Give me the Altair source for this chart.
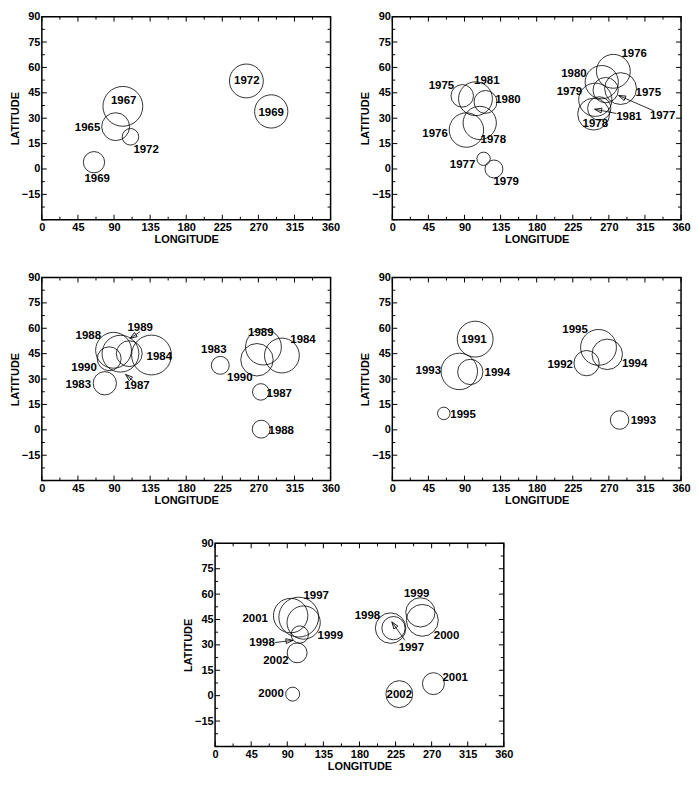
import math
import altair as alt
import pandas as pd

# ---------------- axis / tick values ----------------
X_LABELS = [0, 45, 90, 135, 180, 225, 270, 315, 360]
Y_LABELS = [-15, 0, 15, 30, 45, 60, 75, 90]
X_MAJOR = [0, 45, 90, 135, 180, 225, 270, 315, 360]
X_MINOR = [22.5, 67.5, 112.5, 157.5, 202.5, 247.5, 292.5, 337.5]
Y_MAJOR = [-30, -15, 0, 15, 30, 45, 60, 75, 90]
Y_MINOR = [-22.5, -7.5, 7.5, 22.5, 37.5, 52.5, 67.5, 82.5]

# ---------------- panel 1 (1965-1972) ----------------
P1_YEAR = ["1967", "1965", "1972", "1969", "1972", "1969"]
P1_LON = [101, 92, 110.5, 65, 255, 286]
P1_LAT = [37, 25, 19, 4, 52, 34]
P1_R = [20, 14, 8.3, 10.7, 17, 16.7]
P1_TLON = [102, 57, 130, 69, 255.5, 286]
P1_TLAT = [40, 24.3, 11, -6, 51.7, 33.2]
P1_ARROWS = ([], [], [], [])

# ---------------- panel 2 (1975-1981) ----------------
P2_YEAR = ["1975", "1981", "1980", "1976", "1978", "1977", "1979",
           "1976", "1980", "1975", "1979", "1978", "1977", "1981"]
P2_LON = [87.2, 103.7, 116.2, 92.4, 109, 113.8, 126.7,
          275.6, 261.1, 284.6, 253.1, 251, 266, 258]
P2_LAT = [43.2, 41.5, 39.6, 23, 27.2, 6, 0,
          57.7, 51.3, 47.5, 40.9, 32.4, 46.6, 35.8]
P2_R = [11.3, 17, 11.5, 17.3, 16.7, 6.7, 9,
        17, 16.7, 16, 16.7, 16, 12.7, 11.7]
P2_TLON = [61.3, 117.8, 144.1, 53.3, 125.9, 87.6, 142,
           301.5, 226.5, 319.2, 220.8, 253.1, 337, 295]
P2_TLAT = [49.1, 52.2, 40.9, 20.5, 17, 2.3, -7.5,
           67.9, 56.2, 44.7, 45.7, 26.4, 31.5, 30.6]
P2_ARROWS = ([325.8, 279.3], [34.4, 32.8], [282.2, 252.3], [43.4, 35.3])

# ---------------- panel 3 (1983-1990) ----------------
P3_YEAR = ["1988", "1990", "1987", "1989", "1984", "1983",
           "1983", "1989", "1990", "1984", "1987", "1988"]
P3_LON = [89.4, 84, 98, 109, 136.7, 78.5,
          222.5, 276.3, 268.2, 299.3, 273, 273.5]
P3_LAT = [47, 42, 45, 45, 44.2, 27.5,
          38.1, 48.9, 41.4, 43.9, 22.4, 0.4]
P3_R = [18, 12, 18.5, 13, 20, 11.7,
        9, 18, 16.3, 17.5, 8.3, 9]
P3_TLON = [57.9, 52.6, 118.5, 122.6, 146.4, 45.4,
           214.4, 273, 246.8, 325.6, 296, 298.5]
P3_TLAT = [55.4, 36.8, 25.6, 60.1, 43.3, 26.5,
           47, 57.3, 30.8, 53, 21.3, -0.6]
P3_ARROWS = ([122.5, 115.3], [58, 28.4], [110, 104.4], [54, 32.7])

# ---------------- panel 4 (1991-1995) ----------------
P4_YEAR = ["1991", "1993", "1994", "1995", "1995", "1994", "1992", "1993"]
P4_LON = [103.3, 83.5, 97.2, 64.2, 257.1, 268, 242.2, 283.4]
P4_LAT = [53.6, 34.5, 34.2, 9.7, 48.7, 44.6, 39.4, 5.8]
P4_R = [18, 18.3, 12.7, 6.3, 18, 15.3, 12.7, 9.3]
P4_TLON = [101.7, 44.9, 130.9, 88.2, 227.8, 302.1, 209.3, 313]
P4_TLAT = [53, 34.9, 33.6, 8.8, 59.2, 39, 38.3, 5.4]
P4_ARROWS = ([], [], [], [])

# ---------------- panel 5 (1997-2002) ----------------
P5_YEAR = ["2001", "1997", "1999", "1998", "2002", "2000",
           "1999", "2000", "1998", "1997", "2002", "2001"]
P5_LON = [94.2, 104.3, 110.4, 105.6, 102.3, 96.7,
          256, 258.4, 218.8, 222.4, 229.7, 272.2]
P5_LAT = [47.3, 46.4, 43.2, 36.1, 25.3, 0.9,
          49.2, 44.5, 39.9, 39.9, 0.9, 7.1]
P5_R = [17.3, 20, 16.7, 8.7, 10, 7,
        14.7, 16, 15.3, 11.7, 13.5, 11]
P5_TLON = [50, 126, 143.6, 58.6, 75.8, 69.8,
           251.4, 288.6, 189.9, 244.7, 229.7, 299.3]
P5_TLAT = [45.1, 58.6, 35.2, 30.9, 20.2, 0.9,
           60.1, 35.2, 47.3, 28.2, 0.6, 10.5]
P5_ARROWS = ([74.9, 236.6], [31.4, 32.7], [97.1, 220.4], [32.7, 43.6])

# ---------------- chart building ----------------
W, H = 290, 204
FONT = "Liberation Sans"
XS = alt.Scale(domain=[0, 360], nice=False, zero=False)
YS = alt.Scale(domain=[-30, 90], nice=False, zero=False)
SS = alt.Scale(type="pow", exponent=2, domain=[0, 20], range=[0, 1600])

AX_X = alt.Axis(title="LONGITUDE", values=X_LABELS, ticks=False, domain=False,
                grid=False, labelPadding=2, titlePadding=1, labelFlush=False,
                labelOverlap=False)
AX_Y = alt.Axis(title="LATITUDE", values=Y_LABELS, ticks=False, domain=False,
                grid=False, labelPadding=2, titlePadding=1, labelFlush=False,
                labelOverlap=False)


def X(field):
    return alt.X(field, type="quantitative", scale=XS, axis=AX_X)


def Y(field):
    return alt.Y(field, type="quantitative", scale=YS, axis=AX_Y)


def tick_layers():
    layers = []
    for vals, L in ((X_MAJOR, 5), (X_MINOR, 3)):
        df = pd.DataFrame({"v": vals})
        base = alt.Chart(df).mark_rule(color="black", strokeWidth=1)
        layers.append(base.encode(x=X("v"), y=alt.value(0), y2=alt.value(L)))
        layers.append(base.encode(x=X("v"), y=alt.value(H), y2=alt.value(H - L)))
    for vals, L in ((Y_MAJOR, 5), (Y_MINOR, 3)):
        df = pd.DataFrame({"v": vals})
        base = alt.Chart(df).mark_rule(color="black", strokeWidth=1)
        layers.append(base.encode(y=Y("v"), x=alt.value(0), x2=alt.value(L)))
        layers.append(base.encode(y=Y("v"), x=alt.value(W), x2=alt.value(W - L)))
    return layers


def panel(year, lon, lat, r, tlon, tlat, arrows):
    df = pd.DataFrame({"year": year, "lon": lon, "lat": lat, "r": r,
                       "tlon": tlon, "tlat": tlat})
    circles = alt.Chart(df).mark_point(
        shape="circle", filled=False, stroke="black", strokeWidth=0.8, opacity=1
    ).encode(x=X("lon"), y=Y("lat"),
             size=alt.Size("r:Q", scale=SS, legend=None))
    texts = alt.Chart(df).mark_text(
        font=FONT, fontSize=11.5, fontWeight="bold", color="black",
        align="center", baseline="middle"
    ).encode(x=X("tlon"), y=Y("tlat"), text="year:N")
    layers = tick_layers() + [circles, texts]
    x1, y1, x2, y2 = arrows
    if x1:
        adf = pd.DataFrame({"sx": x1, "sy": y1, "ex": x2, "ey": y2})
        ang = []
        for a, b, c, d in zip(x1, y1, x2, y2):
            dx = (c - a) * W / 360.0
            dy = -(d - b) * H / 120.0
            ang.append(math.degrees(math.atan2(dx, -dy)) % 360)
        adf["ang"] = ang
        lines = alt.Chart(adf).mark_rule(color="black", strokeWidth=0.8).encode(
            x=X("sx"), y=Y("sy"), x2="ex:Q", y2="ey:Q")
        heads = alt.Chart(adf).mark_point(
            shape="M0,0L-0.7,2L0.7,2Z", filled=False, stroke="black",
            strokeWidth=0.8, opacity=1, size=49
        ).encode(x=X("ex"), y=Y("ey"), angle=alt.Angle("ang:Q", scale=None))
        layers += [lines, heads]
    return alt.layer(*layers).properties(width=W, height=H)


p1 = panel(P1_YEAR, P1_LON, P1_LAT, P1_R, P1_TLON, P1_TLAT, P1_ARROWS)
p2 = panel(P2_YEAR, P2_LON, P2_LAT, P2_R, P2_TLON, P2_TLAT, P2_ARROWS)
p3 = panel(P3_YEAR, P3_LON, P3_LAT, P3_R, P3_TLON, P3_TLAT, P3_ARROWS)
p4 = panel(P4_YEAR, P4_LON, P4_LAT, P4_R, P4_TLON, P4_TLAT, P4_ARROWS)
p5 = panel(P5_YEAR, P5_LON, P5_LAT, P5_R, P5_TLON, P5_TLAT, P5_ARROWS)

spacer = alt.Chart(pd.DataFrame({"a": [0]})).mark_point(size=0, opacity=0).encode(
    x=alt.X("a:Q", axis=None), y=alt.Y("a:Q", axis=None)
).properties(width=140, height=1, view=alt.ViewBackground(strokeOpacity=0))

row1 = alt.hconcat(p1, p2, spacing=18)
row2 = alt.hconcat(p3, p4, spacing=18)
row3 = alt.hconcat(spacer, p5, spacing=0)
top = alt.vconcat(row1, row2, spacing=25)
chart = alt.vconcat(top, row3, spacing=30).properties(
    padding=0
).configure_view(
    stroke="black", strokeWidth=1.5
).configure_axis(
    labelFont=FONT, labelFontSize=11, labelFontWeight="bold", labelColor="black",
    titleFont=FONT, titleFontSize=11, titleFontWeight="bold", titleColor="black"
)

chart.save("out.html", embed_options={"renderer": "svg", "actions": False})
